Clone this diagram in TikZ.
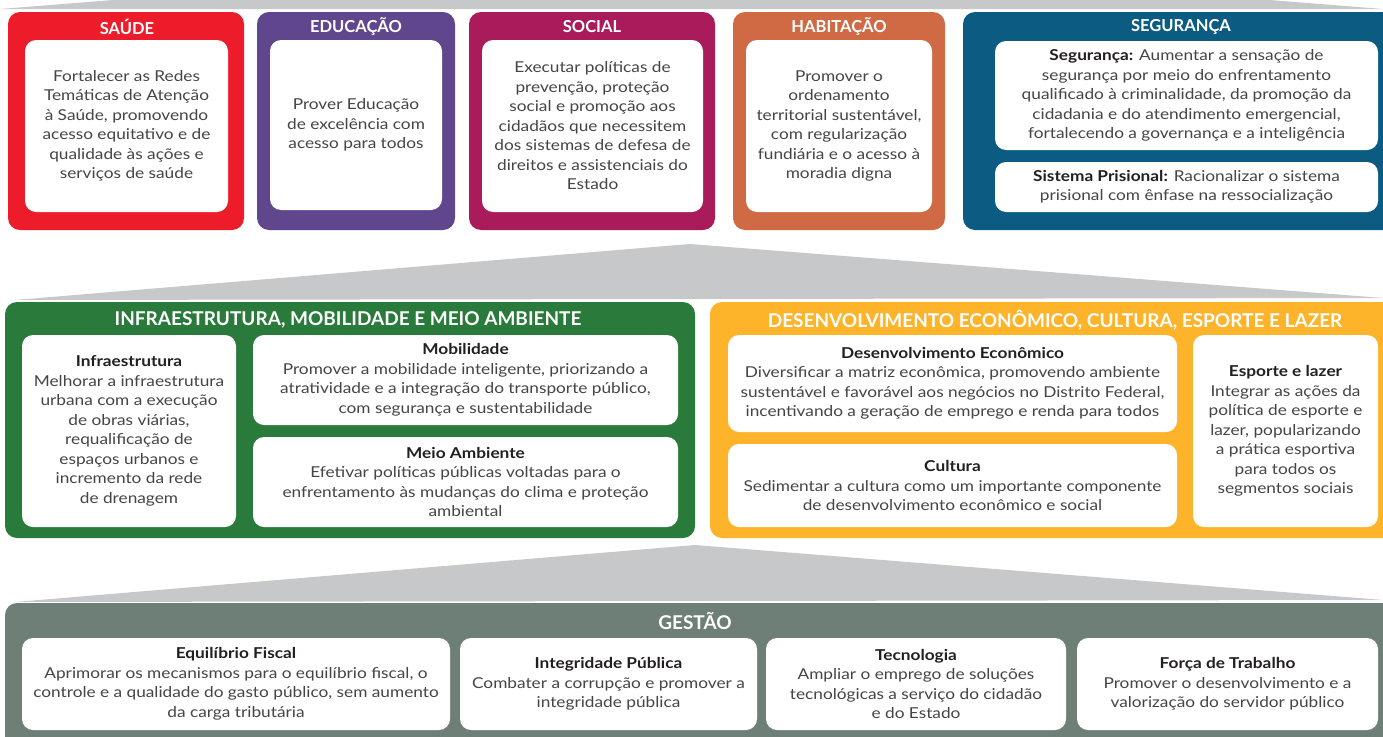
\documentclass[tikz,border=0pt]{standalone}
\usepackage{fontspec}
\setmainfont{Lato}[FakeStretch=1.15]
\newfontfamily\headfamily{Lato}

\definecolor{saudecol}{RGB}{236,28,43}
\definecolor{educcol}{RGB}{96,70,140}
\definecolor{socialcol}{RGB}{169,27,91}
\definecolor{habitcol}{RGB}{207,106,69}
\definecolor{segurcol}{RGB}{11,91,130}
\definecolor{infracol}{RGB}{42,122,59}
\definecolor{desenvcol}{RGB}{253,180,42}
\definecolor{gestaocol}{RGB}{110,127,119}
\definecolor{wedgecol}{RGB}{199,200,202}
\definecolor{bodytxt}{RGB}{70,68,70}
\definecolor{headtxt}{RGB}{35,31,32}

\newcommand{\cardtitle}[1]{\textbf{\color{headtxt}#1}}

\begin{document}
\begin{tikzpicture}[x=1pt, y=-1pt,
    panel/.style={rounded corners=12pt, inner sep=0pt},
    card/.style={fill=white, rounded corners=11pt, inner sep=0pt, align=center,
        text=bodytxt, font=\fontsize{15}{19.5}\selectfont},
    head/.style={text=white, font=\headfamily\bfseries\fontsize{16.5}{18}\selectfont},
    bighead/.style={text=white, font=\headfamily\bfseries\fontsize{19}{21}\selectfont}]

    \clip (0,0) rectangle (1383,736);
    \fill[white] (0,0) rectangle (1383,736);

    % Grey wedges between the rows
    \fill[wedgecol] (0,9) -- (690,-46) -- (1383,9) -- cycle;
    \fill[wedgecol] (15,300) -- (690,244) -- (1383,298) -- cycle;
    \fill[wedgecol] (15,602) -- (695,545) -- (1383,600) -- cycle;

    % Top row
    \node[panel, fill=saudecol, minimum width=236pt, minimum height=218pt] (saude) at (126,121) {};
    \node[head] (saudeT) at (127,27) {SAÚDE};
    \node[card, minimum width=203pt, minimum height=172pt] (saudeC) at (126.5,126) {
        Fortalecer as Redes\\Temáticas de Atenção\\à Saúde, promovendo\\acesso equitativo e de\\qualidade às ações e\\serviços de saúde};

    \node[panel, fill=educcol, minimum width=198pt, minimum height=218pt] (educ) at (356,121) {};
    \node[head] (educT) at (356,27) {EDUCAÇÃO};
    \node[card, minimum width=172pt, minimum height=170pt] (educC) at (356,125) {
        Prover Educação\\de excelência com\\acesso para todos};

    \node[panel, fill=socialcol, minimum width=246pt, minimum height=218pt] (social) at (592,121) {};
    \node[head] (socialT) at (592,27) {SOCIAL};
    \node[card, minimum width=221pt, minimum height=172pt] (socialC) at (592.5,126) {
        Executar políticas de\\prevenção, proteção\\social e promoção aos\\cidadãos que necessitem\\dos sistemas de defesa de\\direitos e assistenciais do\\Estado};

    \node[panel, fill=habitcol, minimum width=212pt, minimum height=218pt] (habit) at (839,121) {};
    \node[head] (habitT) at (839,27) {HABITAÇÃO};
    \node[card, minimum width=186pt, minimum height=172pt] (habitC) at (839,126) {
        Promover o\\ordenamento\\territorial sustentável,\\com regularização\\fundiária e o acesso à\\moradia digna};

    \node[panel, fill=segurcol, minimum width=432pt, minimum height=218pt] (segur) at (1179,121) {};
    \node[head] (segurT) at (1181,27) {SEGURANÇA};
    \node[card, minimum width=383pt, minimum height=109pt] (segurA) at (1186.5,95.5) {
        \cardtitle{Segurança:} Aumentar a sensação de\\segurança por meio do enfrentamento\\qualificado à criminalidade, da promoção da\\cidadania e do atendimento emergencial,\\fortalecendo a governança e a inteligência};
    \node[card, minimum width=383pt, minimum height=50pt] (segurB) at (1186.5,187) {
        \cardtitle{Sistema Prisional:} Racionalizar o sistema\\prisional com ênfase na ressocialização};

    % Middle row
    \node[panel, fill=infracol, minimum width=690pt, minimum height=236pt] (infra) at (350,420) {};
    \node[bighead] (infraT) at (348,320) {INFRAESTRUTURA, MOBILIDADE E MEIO AMBIENTE};
    \node[card, minimum width=214pt, minimum height=192pt] (infraC) at (129,431) {
        \cardtitle{Infraestrutura}\\Melhorar a infraestrutura\\urbana com a execução\\de obras viárias,\\requalificação de\\espaços urbanos e\\incremento da rede\\de drenagem};
    \node[card, minimum width=425pt, minimum height=90pt] (mobilC) at (465.5,380) {
        \cardtitle{Mobilidade}\\Promover a mobilidade inteligente, priorizando a\\atratividade e a integração do transporte público,\\com segurança e sustentabilidade};
    \node[card, minimum width=425pt, minimum height=90pt] (meioC) at (465.5,482) {
        \cardtitle{Meio Ambiente}\\Efetivar políticas públicas voltadas para o\\enfrentamento às mudanças do clima e proteção\\ambiental};

    \node[panel, fill=desenvcol, minimum width=685pt, minimum height=236pt] (desenv) at (1052.5,420) {};
    \node[bighead] (desenvT) at (1055,320) {DESENVOLVIMENTO ECONÔMICO, CULTURA, ESPORTE E LAZER};
    \node[card, minimum width=449pt, minimum height=97pt] (econC) at (952.5,383.5) {
        \cardtitle{Desenvolvimento Econômico}\\Diversificar a matriz econômica, promovendo ambiente\\sustentável e favorável aos negócios no Distrito Federal,\\incentivando a geração de emprego e renda para todos};
    \node[card, minimum width=449pt, minimum height=83pt] (culturaC) at (952.5,485.5) {
        \cardtitle{Cultura}\\Sedimentar a cultura como um importante componente\\de desenvolvimento econômico e social};
    \node[card, minimum width=185pt, minimum height=192pt] (esporteC) at (1285.5,431) {
        \cardtitle{Esporte e lazer}\\Integrar as ações da\\política de esporte e\\lazer, popularizando\\a prática esportiva\\para todos os\\segmentos sociais};

    % Bottom row
    \node[panel, fill=gestaocol, minimum width=1390pt, minimum height=147pt] (gestao) at (700,676.5) {};
    \node[head, font=\headfamily\bfseries\fontsize{19}{21}\selectfont] (gestaoT) at (695,621) {GESTÃO};
    \node[card, minimum width=428pt, minimum height=92pt] (fiscalC) at (236,684) {
        \cardtitle{Equilíbrio Fiscal}\\Aprimorar os mecanismos para o equilíbrio fiscal, o\\controle e a qualidade do gasto público, sem aumento\\da carga tributária};
    \node[card, minimum width=297pt, minimum height=92pt] (integC) at (608.5,684) {
        \cardtitle{Integridade Pública}\\Combater a corrupção e promover a\\integridade pública};
    \node[card, minimum width=300pt, minimum height=92pt] (tecnoC) at (916,684) {
        \cardtitle{Tecnologia}\\Ampliar o emprego de soluções\\tecnológicas a serviço do cidadão\\e do Estado};
    \node[card, minimum width=301pt, minimum height=92pt] (forcaC) at (1227.5,684) {
        \cardtitle{Força de Trabalho}\\Promover o desenvolvimento e a\\valorização do servidor público};
\end{tikzpicture}
\end{document}
